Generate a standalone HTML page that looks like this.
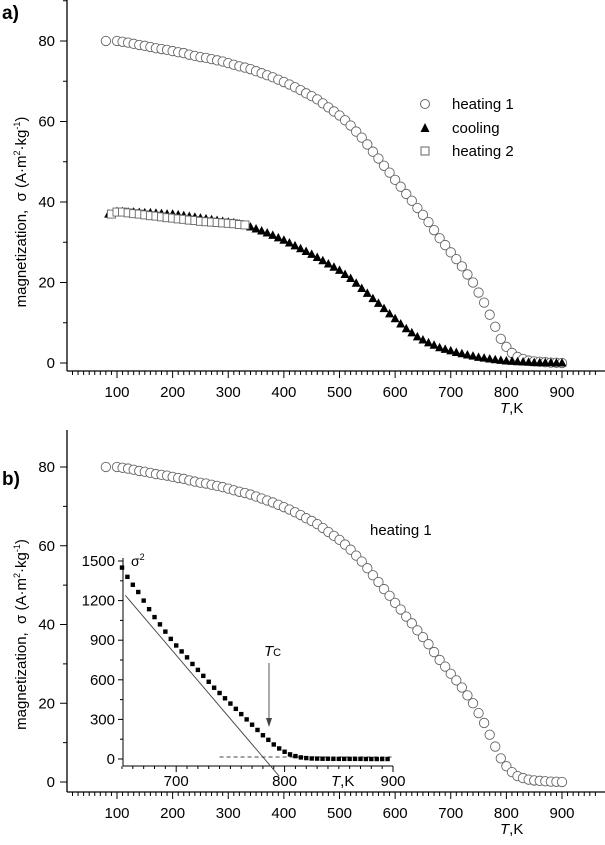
<!DOCTYPE html>
<html><head><meta charset="utf-8"><style>
body{margin:0;background:#fff}
svg{display:block;font-family:"Liberation Sans",sans-serif}
</style></head><body>
<svg id="c" width="605" height="845" xmlns="http://www.w3.org/2000/svg"></svg>
<script>
const heat1T=[80,100,110,120,130,140,150,160,170,180,190,200,210,220,230,240,250,260,270,280,290,300,310,320,330,340,350,360,370,380,390,400,410,420,430,440,450,460,470,480,490,500,510,520,530,540,550,560,570,580,590,600,610,620,630,640,650,660,670,680,690,700,710,720,730,740,750,760,770,780,790,800,810,820,830,840,850,860,870,880,890,900];
const heat1V=[80,80,79.8,79.6,79.3,79,78.8,78.5,78.2,78,77.8,77.5,77.2,77,76.6,76.3,76,75.8,75.5,75.2,74.9,74.5,74.1,73.7,73.4,73,72.5,72,71.5,71,70.4,69.8,69.2,68.5,67.8,67,66.3,65.5,64.5,63.5,62.5,61.5,60.3,59,57.5,56,54.3,52.5,50.8,49,47.3,45.5,43.8,42,40.3,38.5,36.8,35,33,31,29.3,27.5,25.8,24,22,20,17.5,15,12,9,6,4,2.5,1.5,1,0.6,0.4,0.3,0.2,0.1,0.05,0];
const coolT=[85,100,110,120,130,140,150,160,170,180,190,200,210,220,230,240,250,260,270,280,290,300,310,320,330,340,350,360,370,380,390,400,410,420,430,440,450,460,470,480,490,500,510,520,530,540,550,560,570,580,590,600,610,620,630,640,650,660,670,680,690,700,710,720,730,740,750,760,770,780,790,800,810,820,830,840,850,860,870,880,890,900];
const coolV=[37,37.6,37.6,37.5,37.5,37.4,37.3,37.3,37.2,37.1,37,37,36.8,36.6,36.4,36.2,36,35.8,35.6,35.4,35.2,35,34.8,34.5,34.2,33.8,33.3,32.8,32.3,31.7,31.1,30.5,29.8,29.1,28.4,27.7,27,26.2,25.4,24.6,23.8,23,22,21,19.8,18.5,17.3,16,14.8,13.5,12.2,11,9.7,8.5,7.5,6.5,5.7,5,4.4,3.8,3.4,3,2.6,2.3,2,1.7,1.4,1.2,1,0.8,0.65,0.5,0.4,0.3,0.25,0.2,0.1,0.1,0.05,0.05,0,0];
const heat2T=[90,100,110,120,130,140,150,160,170,180,190,200,210,220,230,240,250,260,270,280,290,300,310,320,330];
const heat2V=[37,37.5,37.5,37.3,37.1,37,36.8,36.6,36.5,36.3,36.1,36,35.8,35.7,35.5,35.4,35.2,35.1,35,34.9,34.8,34.7,34.6,34.4,34.3];
const insetT=[650,655,660,665,670,675,680,685,690,695,700,705,710,715,720,725,730,735,740,745,750,755,760,765,770,775,780,785,790,795,800,805,810,815,820,825,830,835,840,845,850,855,860,865,870,875,880,885,890,895];
const insetV=[1450,1380,1320,1265,1200,1135,1075,1020,965,910,860,815,770,720,675,630,585,540,500,460,420,380,340,300,260,220,180,145,110,80,55,35,22,12,7,4,3,2,2,1,1,1,1,1,1,0,0,0,0,0];
const xTicks=[100,200,300,400,500,600,700,800,900];
const yTicks=[0,20,40,60,80];
const insetXTicks=[700,800,900];
const insetYTicks=[0,300,600,900,1200,1500];

const svg=document.getElementById('c');const NS='http://www.w3.org/2000/svg';
function el(t,a,p){const e=document.createElementNS(NS,t);for(const k in a)e.setAttribute(k,a[k]);(p||svg).appendChild(e);return e;}
function txt(s,a,p){const e=el('text',a,p);e.textContent=s;return e;}
const X=t=>117+(t-100)*(445/800);

function panel(name,y0,y80,axisY,topY){
  const g=el('g',{});
  
  
  const Y=v=>y0+(y80-y0)*v/80;
  el('line',{x1:67,y1:topY,x2:67,y2:axisY,stroke:'#000','stroke-width':1.3},g);
  el('line',{x1:67,y1:axisY,x2:605,y2:axisY,stroke:'#000','stroke-width':1.3},g);
  for(let t=0;t<=960;t+=10){if(X(t)<68)continue;const maj=t%100===0;el('line',{x1:X(t),y1:axisY,x2:X(t),y2:axisY+(maj?7:4),stroke:'#000','stroke-width':1},g);}
  xTicks.forEach(t=>{const e=txt(t,{x:X(t),y:axisY+26,'text-anchor':'middle','font-size':15},g);});
  for(let v=0;v<=90;v+=10){const yy=Y(v);if(yy<topY)continue;el('line',{x1:67,y1:yy,x2:v%20===0?60:63,y2:yy,stroke:'#000','stroke-width':1},g);}
  yTicks.forEach(v=>{const e=txt(v,{x:55,y:Y(v)+5,'text-anchor':'end','font-size':15},g);});
  const xt=txt('',{x:500,y:axisY+42,'font-size':15},g);xt.innerHTML='<tspan font-style="italic">T</tspan>,K';
  
  const cy=(Y(0)+Y(80))/2+10;
  const yt=txt('',{x:0,y:0,'font-size':15,'text-anchor':'middle',style:'white-space:pre',transform:`translate(26,${cy}) rotate(-90)`},g);
  yt.innerHTML='magnetization,  σ (A·m<tspan dy="-6" font-size="9">2</tspan><tspan dy="6">·kg</tspan><tspan dy="-6" font-size="9">-1</tspan><tspan dy="6">)</tspan>';
  
  return {g,Y};
}
function circles(g,T,V,Y){T.forEach((t,i)=>{const c=el('circle',{cx:X(t),cy:Y(V[i]),r:4.7,fill:'#fff',stroke:'#666','stroke-width':0.9},g);});}

// Panel a
const A=panel('panel-a',363,41,371,0);
const la=txt('a)',{x:2,y:19,'font-size':19,'font-weight':'bold'});
circles(A.g,heat1T,heat1V,A.Y);
coolT.forEach((t,i)=>{const x=X(t),y=A.Y(coolV[i]);const p=el('polygon',{points:`${x},${y-5} ${x-4.5},${y+3.5} ${x+4.5},${y+3.5}`,fill:'#000'},A.g);});
heat2T.forEach((t,i)=>{const r=el('rect',{x:X(t)-4,y:A.Y(heat2V[i])-4,width:8,height:8,fill:'#fff',stroke:'#666','stroke-width':0.9},A.g);});
// legend
const lg=el('g',{});
el('circle',{cx:425,cy:104,r:4.5,fill:'#fff',stroke:'#666'},lg);txt('heating 1',{x:452,y:109,'font-size':15},lg);
el('polygon',{points:'425,123 420.5,132 429.5,132',fill:'#000'},lg);txt('cooling',{x:452,y:133,'font-size':15},lg);
el('rect',{x:421,y:147,width:8,height:8,fill:'#fff',stroke:'#666'},lg);txt('heating 2',{x:452,y:156,'font-size':15},lg);

// Panel b
const B=panel('panel-b',782,467,792,430);
const lb=txt('b)',{x:2,y:485,'font-size':19,'font-weight':'bold'});
circles(B.g,heat1T,heat1V,B.Y);
const h1=txt('heating 1',{x:370,y:535,'font-size':15});

// Inset
const ig=el('g',{});
const IX=t=>122+(t-650)*(271/250), IY=v=>759-(v/1500)*198;
el('line',{x1:123,y1:558,x2:123,y2:766,stroke:'#000','stroke-width':1},ig);
el('line',{x1:123,y1:766,x2:393,y2:766,stroke:'#000','stroke-width':1},ig);
for(let t=650;t<=900;t+=10){el('line',{x1:IX(t),y1:766,x2:IX(t),y2:766+(t%100===0?6:3),stroke:'#000'},ig);}
for(let v=0;v<=1500;v+=150){el('line',{x1:123,y1:IY(v),x2:v%300===0?118:120,y2:IY(v),stroke:'#000'},ig);}
insetXTicks.forEach(t=>txt(t,{x:IX(t),y:786,'text-anchor':'middle','font-size':15},ig));
insetYTicks.forEach(v=>txt(v,{x:115,y:IY(v)+5,'text-anchor':'end','font-size':15},ig));
const ik=txt('',{x:331,y:786,'font-size':15},ig);ik.innerHTML='<tspan font-style="italic">T</tspan>,K';
const s2=txt('',{x:131,y:566,'font-size':14},ig);s2.innerHTML='σ<tspan dy="-6" font-size="9">2</tspan>';
el('line',{x1:IX(653),y1:IY(1240),x2:IX(795),y2:IY(-130),stroke:'#444','stroke-width':0.9},ig);
el('line',{x1:IX(740),y1:757,x2:IX(900),y2:757,stroke:'#444','stroke-width':0.9,'stroke-dasharray':'4,3'},ig);
insetT.forEach((t,i)=>{const r=el('rect',{x:IX(t)-2.2,y:IY(insetV[i])-2.2,width:4.4,height:4.4,fill:'#000'},ig);});
el('line',{x1:269,y1:663,x2:269,y2:725,stroke:'#444','stroke-width':0.9},ig);
el('polygon',{points:'266,718 272,718 269,727',fill:'#444'},ig);
const tc=txt('',{x:264,y:656,'font-size':15},ig);tc.innerHTML='<tspan font-style="italic">T</tspan><tspan font-size="11">C</tspan>';
</script>
</body></html>
